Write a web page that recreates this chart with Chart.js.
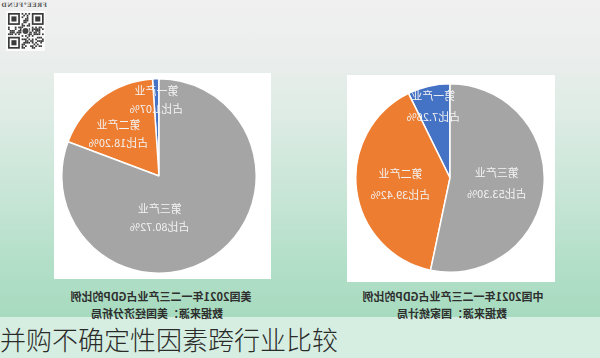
<!DOCTYPE html>
<html>
<head>
<meta charset="utf-8">
<script src="https://cdn.jsdelivr.net/npm/chart.js@4/dist/chart.umd.min.js"></script>
<style>
  html, body { margin: 0; padding: 0; }
  body { width: 600px; height: 358px; position: relative; overflow: hidden;
         font-family: "Noto Sans CJK SC", "Noto Sans", sans-serif; }
  #frame { position: absolute; left: 0; top: 0; width: 600px; height: 317px;
           background: linear-gradient(to bottom, #f0f0f0 0px, #eceeed 45px, #dfece6 110px, #c6e5d5 200px, #b2dfc8 265px, #a7dbbf 317px); }
  #strip { position: absolute; left: 0; top: 317px; width: 600px; height: 41px; background: #d6eee1; }
  .panel { position: absolute; background: #ffffff; }
  .pie { position: absolute; transform: scaleX(-1); }
  .cap { position: absolute; width: 260px; text-align: center; font-size: 11px; line-height: 14px;
         font-weight: bold; color: #2e2e2e; transform: scaleX(-1); white-space: nowrap; }
  #title { position: absolute; left: 0px; top: 324px; font-size: 26px; line-height: 30px;
           font-weight: 300; color: #2a2a2a; white-space: nowrap; letter-spacing: 0px; }
  #qrtext { position: absolute; left: 0px; top: 1px; width: 48px; text-align: center; font-size: 6px; line-height: 8px;
            font-family: "DejaVu Serif", serif; font-weight: bold; color: #555; transform: scaleX(-1); letter-spacing: 0.5px; }
  #qr { position: absolute; left: 6px; top: 11px; }
</style>
</head>
<body>
<div id="frame"></div>
<div id="strip"></div>
<div id="qrtext">FREE°FUND</div>
<canvas id="qr" width="39" height="40"></canvas>

<div class="panel" style="left:54px; top:73px; width:217px; height:206px;"></div>
<div class="panel" style="left:347px; top:75px; width:208px; height:207px;"></div>

<div class="pie" style="left:61px; top:78px; width:196px; height:196px;"><canvas id="usPie"></canvas></div>
<div class="pie" style="left:355px; top:83px; width:190px; height:190px;"><canvas id="cnPie"></canvas></div>

<div class="cap" style="left:31px; top:289px;">美国2021年一二三产业占GDP的比例</div>
<div class="cap" style="left:27px; top:306px;">数据来源：美国经济分析局</div>
<div class="cap" style="left:323px; top:289px;">中国2021年一二三产业占GDP的比例</div>
<div class="cap" style="left:322px; top:306px;">数据来源：国家统计局</div>

<div id="title">并购不确定性因素跨行业比较</div>

<script>
// ---- data ----
const categories = ['第一产业', '第二产业', '第三产业'];
const usShares = [1.07, 18.20, 80.72];   // 美国2021年 一二三产业占GDP比例 (%)
const cnShares = [7.26, 39.42, 53.30];   // 中国2021年 一二三产业占GDP比例 (%)
const sliceColors = ['#4472c4', '#ed7d31', '#a5a5a5'];

// ---- label plugin: two-line labels inside slices ----
const sliceLabels = {
  id: 'sliceLabels',
  afterDatasetsDraw(chart, args, opts) {
    const ctx = chart.ctx;
    const meta = chart.getDatasetMeta(0);
    const data = chart.data.datasets[0].data;
    ctx.save();
    ctx.fillStyle = opts.color || '#fff';
    ctx.font = opts.font || '11px "Noto Sans CJK SC"';
    ctx.textAlign = 'center';
    ctx.textBaseline = 'middle';
    meta.data.forEach((arc, i) => {
      const p = arc.getProps(['x', 'y', 'startAngle', 'endAngle', 'outerRadius'], true);
      let ang = (p.startAngle + p.endAngle) / 2;
      if (opts.angles && opts.angles[i] != null) {
        ang = opts.angles[i] * Math.PI / 180 - Math.PI / 2;
      }
      const fr = (opts.fracs && opts.fracs[i]) || 0.6;
      const x = p.x + Math.cos(ang) * p.outerRadius * fr;
      const y = p.y + Math.sin(ang) * p.outerRadius * fr;
      const gap = opts.gap || 19;
      ctx.fillText(chart.data.labels[i], x, y - gap / 2);
      ctx.fillText('占比' + data[i].toFixed(2) + '%', x, y + gap / 2);
    });
    ctx.restore();
  }
};

function makePie(id, values, labelOpts) {
  return new Chart(document.getElementById(id), {
    type: 'pie',
    data: {
      labels: categories,
      datasets: [{
        data: values,
        backgroundColor: sliceColors,
        borderColor: '#ffffff',
        borderWidth: 1.5
      }]
    },
    options: {
      responsive: true,
      maintainAspectRatio: false,
      animation: false,
      events: [],
      layout: { padding: 0 },
      plugins: {
        legend: { display: false },
        tooltip: { enabled: false },
        title: { display: false },
        sliceLabels: labelOpts
      }
    },
    plugins: [sliceLabels]
  });
}

makePie('usPie', usShares, { fracs: [0.78, 0.6, 0.43], angles: [null, 44, 181], gap: 18, color: '#f4f4f4', font: '11px "Noto Sans CJK SC"' });
makePie('cnPie', cnShares, { fracs: [0.78, 0.53, 0.5], angles: [null, null, null], gap: 21, color: '#f4f4f4', font: '11px "Noto Sans CJK SC"' });

// ---- decorative QR-like badge ----
(function () {
  const c = document.getElementById('qr');
  const g = c.getContext('2d');
  g.fillStyle = '#fbfbfb';
  g.fillRect(0, 0, 39, 40);
  const n = 21, m = 1.7, o = 2;
  g.fillStyle = '#3a3a3a';
  const seed = 'FREEFUNDQRCODE';
  let h = 7;
  for (let r = 0; r < n; r++) {
    for (let col = 0; col < n; col++) {
      const inFinder = (r < 8 && col < 8) || (r < 8 && col > 12) || (r > 12 && col < 8);
      if (inFinder) continue;
      h = (h * 31 + seed.charCodeAt((r * n + col) % seed.length)) % 997;
      if (h % 2 === 0) g.fillRect(o + col * m, o + r * m, m, m);
    }
  }
  function finder(x, y) {
    g.fillStyle = '#3a3a3a'; g.fillRect(o + x * m, o + y * m, 7 * m, 7 * m);
    g.fillStyle = '#fbfbfb'; g.fillRect(o + (x + 1) * m, o + (y + 1) * m, 5 * m, 5 * m);
    g.fillStyle = '#3a3a3a'; g.fillRect(o + (x + 2) * m, o + (y + 2) * m, 3 * m, 3 * m);
  }
  finder(0, 0); finder(14, 0); finder(0, 14);
  g.fillStyle = '#fbfbfb';
  g.beginPath(); g.arc(19.5, 20, 4, 0, Math.PI * 2); g.fill();
  g.fillStyle = '#444';
  g.beginPath(); g.arc(19.5, 20, 3, 0, Math.PI * 2); g.fill();
})();
</script>
</body>
</html>
